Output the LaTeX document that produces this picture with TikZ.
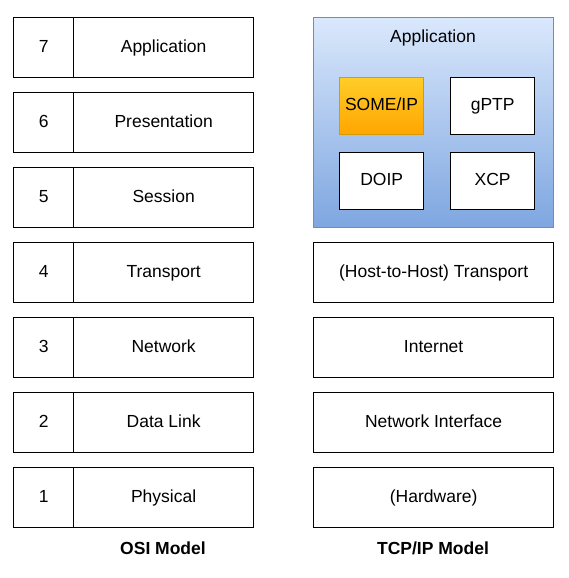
\documentclass[tikz,border=0pt]{standalone}
\usepackage{fontspec}
\setmainfont{Liberation Sans}
\usetikzlibrary{positioning}
\definecolor{appTop}{HTML}{DAE8FC}
\definecolor{appBot}{HTML}{7EA6E0}
\definecolor{appLine}{HTML}{6C8EBF}
\definecolor{orTop}{HTML}{FFCD28}
\definecolor{orBot}{HTML}{FFA500}
\definecolor{orLine}{HTML}{D79B00}
\begin{document}
\begin{tikzpicture}[x=1pt,y=-1pt,
  txt/.style={font=\fontsize{17.5}{20}\selectfont,text height=12.6pt,text depth=3.7pt},
  lay/.style={txt,draw=black,line width=1.3pt,fill=white,minimum height=60pt,inner sep=0pt,anchor=north west},
  numbox/.style={lay,minimum width=60pt},
  namebox/.style={lay,minimum width=180pt},
  tcpbox/.style={lay,minimum width=240pt},
  proto/.style={txt,draw=black,line width=1.3pt,fill=white,minimum width=84pt,minimum height=57pt,inner sep=0pt,anchor=north west},
  caption/.style={font=\fontsize{17.5}{20}\selectfont\bfseries}]
\useasboundingbox (0,0) rectangle (569,578);
% OSI
\foreach \n/\t [count=\i from 0] in {7/Application,6/Presentation,5/Session,4/Transport,3/Network,2/Data Link,1/Physical}{
  \node[numbox] (n\n) at (13,{17+75*\i}) {\n};
  \node[namebox] (l\n) at (73,{17+75*\i}) {\t};
}
% TCP/IP
\node[draw=appLine,line width=1pt,top color=appTop,bottom color=appBot,minimum width=240pt,minimum height=210pt,anchor=north west,inner sep=0pt] (app) at (313,17) {};
\node[txt] (apptitle) at (433,38) {Application};
\node[proto,draw=orLine,line width=1pt,top color=orTop,bottom color=orBot] (someip) at (339,77) {SOME/IP};
\node[proto] (gptp) at (450,77) {gPTP};
\node[proto] (doip) at (339,152) {DOIP};
\node[proto] (xcp) at (450,152) {XCP};
\node[tcpbox] (t4) at (313,242) {(Host-to-Host) Transport};
\node[tcpbox] (t3) at (313,317) {Internet};
\node[tcpbox] (t2) at (313,392) {Network Interface};
\node[tcpbox] (t1) at (313,467) {(Hardware)};
\node[caption] (osi) at (163,548) {OSI Model};
\node[caption] (tcp) at (433,548) {TCP/IP Model};
\end{tikzpicture}
\end{document}
